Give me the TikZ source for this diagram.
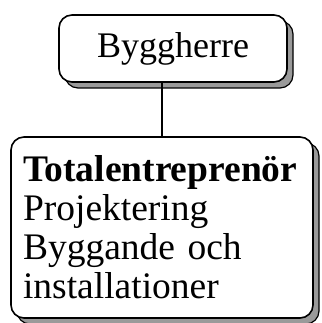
\documentclass[tikz,border=0pt]{standalone}
\usepackage{fontspec}
\setmainfont{Liberation Serif}
\usepackage{xcolor}
\usepackage{tikz}
\usetikzlibrary{shadows}
\definecolor{shade}{HTML}{9A9A9A}
\tikzset{
  orgbox/.style={draw=black, line width=1.6pt, rounded corners=13pt, fill=white,
    drop shadow={shadow xshift=6pt, shadow yshift=-6pt, fill=shade, draw=black,
      line width=1.2pt, opacity=1},
    inner sep=0pt},
  link/.style={line width=1.6pt, draw=black}
}

\begin{document}
\begin{tikzpicture}[x=1pt,y=1pt]
  \useasboundingbox (0,0) rectangle (321,-323);
  \node[orgbox, minimum width=228pt, minimum height=67pt,
        font=\fontsize{36}{39}\selectfont] (herre) at (173,-48.5) {Byggherre};
  \node[orgbox, minimum width=302pt, minimum height=181pt, align=left,
        text width=278pt, font=\fontsize{37.5}{39}\selectfont] (entre) at (162,-227.5)
    {\textbf{Totalentreprenör}\\Projektering\\Byggande och\\installationer};
  \draw[link] (entre.north) -- (entre.north |- herre.south);
\end{tikzpicture}
\end{document}
